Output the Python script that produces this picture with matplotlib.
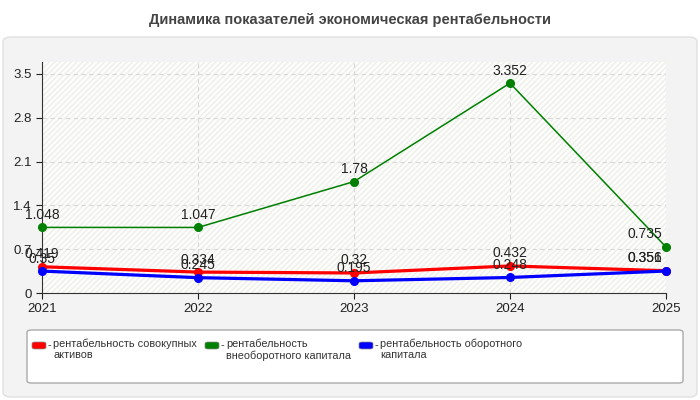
import matplotlib
matplotlib.use("Agg")
import matplotlib.pyplot as plt
from matplotlib.patches import FancyBboxPatch, Rectangle

years = ["2021", "2022", "2023", "2024", "2025"]
red_vals = [0.419, 0.334, 0.32, 0.432, 0.356]
green_vals = [1.048, 1.047, 1.78, 3.352, 0.735]
blue_vals = [0.35, 0.245, 0.195, 0.248, 0.351]
labels = ["рентабельность совокупных\nактивов",
          "рентабельность\nвнеоборотного капитала",
          "рентабельность оборотного\nкапитала"]
colors = ["#ff0000", "#008000", "#0000ff"]
yticks = [0, 0.7, 1.4, 2.1, 2.8, 3.5]

plt.rcParams['font.family'] = ['Liberation Sans', 'DejaVu Sans']
W, H = 700, 400
fig = plt.figure(figsize=(W/100, H/100), dpi=100)
fig.patch.set_facecolor("white")

panel = FancyBboxPatch((3/W, 3/H), 694/W, 360/H, boxstyle="round,pad=0,rounding_size=0.012",
                       transform=fig.transFigure, facecolor="#f3f3f3", edgecolor="#e0e0e0",
                       lw=1, zorder=-10)
fig.patches.append(panel)

fig.text(0.5, 1 - 20/H, "Динамика показателей экономическая рентабельности",
         ha="center", va="center", fontsize=10.5, fontweight="bold", color="#444444")

ax = fig.add_axes([42/W, 1 - 293/H, (666-42)/W, (293-62)/H])
ax.set_facecolor("#fdfdf9")
ax.add_patch(Rectangle((0, 0), 1, 1, transform=ax.transAxes, facecolor="none",
                       edgecolor="#eeeeee", hatch="//////", lw=0, zorder=0))
x = list(range(len(years)))
series = [red_vals, green_vals, blue_vals]
lws = [2.3, 1.1, 2.3]
for vals, c, lw in zip(series, colors, lws):
    ax.plot(x, vals, color=c, lw=lw, marker="o", markersize=5.5, zorder=3, clip_on=False)
    for xi, v in zip(x, vals):
        dx = -15 if xi == len(x) - 1 else 0
        ax.annotate(f"{v:g}", (xi, v), xytext=(dx, 4), textcoords="offset points",
                    ha="center", va="bottom", fontsize=10, color="#222222", zorder=4)

ax.set_xlim(0, 4)
ax.set_ylim(0, 3.69)
ax.set_xticks(x)
ax.set_xticklabels(years)
ax.set_yticks(yticks)
ax.set_yticklabels([f"{t:g}" for t in yticks])
ax.tick_params(labelsize=9.5, colors="#222222", length=4)
ax.grid(True, color="#d8d8d8", ls=(0, (4, 3)), lw=0.8)
ax.set_axisbelow(True)
for s in ["top", "right"]:
    ax.spines[s].set_visible(False)
for s in ["left", "bottom"]:
    ax.spines[s].set_color("#333333")

lb = FancyBboxPatch((27/W, 1 - 383/H), (683-27)/W, (383-330)/H,
                    boxstyle="round,pad=0,rounding_size=0.006", transform=fig.transFigure,
                    facecolor="white", edgecolor="#aaaaaa", lw=1)
fig.patches.append(lb)
xs = [32, 205, 359]
for xx, lab, c in zip(xs, labels, colors):
    fig.patches.append(FancyBboxPatch((xx/W, 1 - 349/H), 14/W, 7/H,
                                      boxstyle="round,pad=0,rounding_size=0.004",
                                      transform=fig.transFigure, facecolor=c,
                                      edgecolor="#888888", lw=0.5))
    fig.text((xx + 16)/W, 1 - 345/H, "-", ha="left", va="center", fontsize=7.8, color="#333333")
    fig.text((xx + 21)/W, 1 - 339/H, lab, ha="left", va="top", fontsize=7.8,
             color="#333333", linespacing=1.1)

fig.savefig("out.png", dpi=100)
